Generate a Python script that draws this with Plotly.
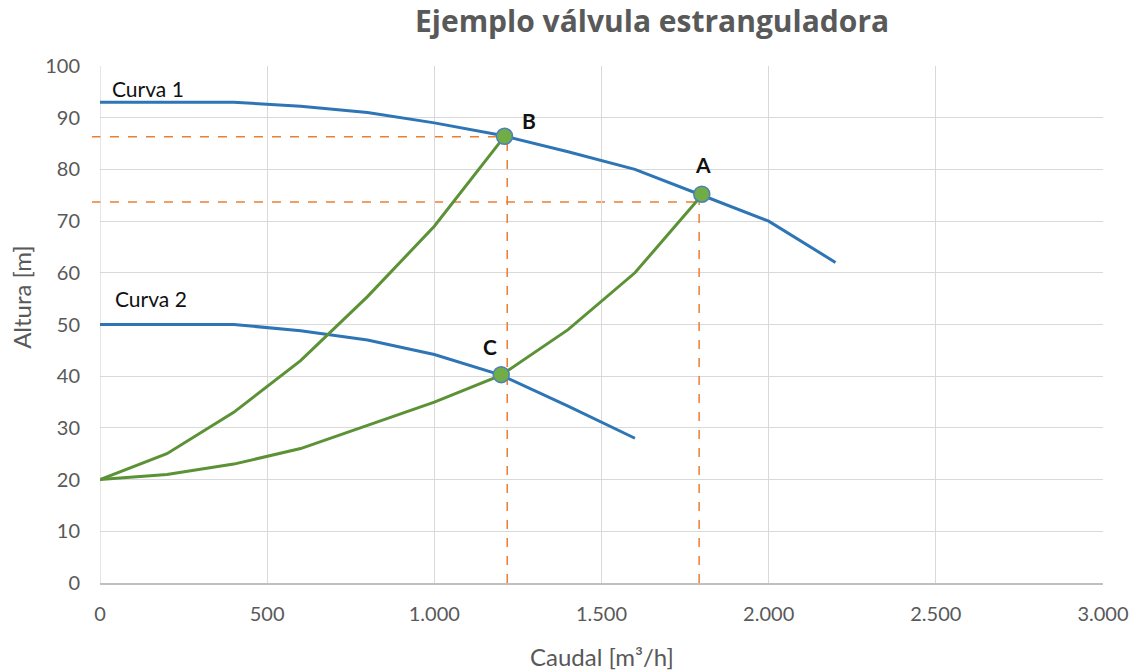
import plotly.graph_objects as go

# Curva 1 (pump curve, full speed)
c1_q = [0, 200, 400, 600, 800, 1000, 1200, 1400, 1600, 1800, 2000, 2200]
c1_h = [93, 93, 93, 92.2, 91, 89, 86.6, 83.4, 80, 75, 70, 62]

# Curva 2 (pump curve, reduced)
c2_q = [0, 200, 400, 600, 800, 1000, 1200, 1400, 1600]
c2_h = [50, 50, 50, 48.8, 47, 44.2, 40.2, 34.2, 28]

# System curve (valve throttled) through B
s1_q = [0, 200, 400, 600, 800, 1000, 1210]
s1_h = [20, 25, 33, 43, 55.4, 69, 86.4]

# System curve (open) through C and A
s2_q = [0, 200, 400, 600, 800, 1000, 1200, 1400, 1600, 1800]
s2_h = [20, 21, 23, 26, 30.5, 35, 40.2, 49, 60, 75]

# Operating points
pt_names = ["B", "A", "C"]
pt_q = [1210, 1800, 1200]
pt_h = [86.4, 75.2, 40.3]

# Reference (dashed) lines: vertical positions and horizontal levels
vline_q = [1218, 1792]
vline_top = [86.0, 73.6]
hline_h = [86.3, 73.7]
hline_end = [1210, 1792]

X_MAX = 3000
Y_MAX = 100
x_ticks = [0, 500, 1000, 1500, 2000, 2500, 3000]
y_ticks = [0, 10, 20, 30, 40, 50, 60, 70, 80, 90, 100]

BLUE = "#2E75B6"
GREEN = "#5B9236"
ORANGE = "#ED7D31"
GRAY = "#595959"
FONT = "Lato"

fig = go.Figure()

# dashed guide lines
for q, top in zip(vline_q, vline_top):
    fig.add_trace(go.Scatter(x=[q, q], y=[0, top], mode="lines",
                             line=dict(color=ORANGE, width=1.5, dash="dash"),
                             showlegend=False, hoverinfo="skip"))
for h, qe in zip(hline_h, hline_end):
    fig.add_shape(type="line", xref="paper", yref="y",
                  x0=-0.008, x1=qe / X_MAX, y0=h, y1=h,
                  line=dict(color=ORANGE, width=1.5, dash="dash"), layer="below")

fig.add_trace(go.Scatter(x=c1_q, y=c1_h, mode="lines", name="Curva 1",
                         line=dict(color=BLUE, width=3)))
fig.add_trace(go.Scatter(x=c2_q, y=c2_h, mode="lines", name="Curva 2",
                         line=dict(color=BLUE, width=3)))
fig.add_trace(go.Scatter(x=s1_q, y=s1_h, mode="lines", name="Sistema 1",
                         line=dict(color=GREEN, width=3)))
fig.add_trace(go.Scatter(x=s2_q, y=s2_h, mode="lines", name="Sistema 2",
                         line=dict(color=GREEN, width=3)))
fig.add_trace(go.Scatter(x=pt_q, y=pt_h, mode="markers", name="Puntos",
                         marker=dict(size=16, color="#70AD47",
                                     line=dict(color="#4E80B8", width=1.5)),
                         cliponaxis=False))

# text labels
fig.add_annotation(x=30, y=95.7, text="Curva 1", showarrow=False, xanchor="left",
                   font=dict(family=FONT, size=21, color="#111111"))
fig.add_annotation(x=39, y=55.1, text="Curva 2", showarrow=False, xanchor="left",
                   font=dict(family=FONT, size=21, color="#111111"))
label_pos = {"B": (1283, 89.4), "A": (1804, 80.9), "C": (1167, 45.8)}
for n in pt_names:
    lx, ly = label_pos[n]
    fig.add_annotation(x=lx, y=ly, text="<b>%s</b>" % n, showarrow=False,
                       font=dict(family=FONT, size=21, color="#111111"))

# axis titles
fig.add_annotation(xref="paper", yref="paper", x=0.5, y=-0.142, yanchor="middle",
                   text="Caudal [m³/h]", showarrow=False,
                   font=dict(family=FONT, size=24, color=GRAY))
fig.add_annotation(xref="paper", yref="paper", x=-0.079, y=0.553, xanchor="center",
                   yanchor="middle", textangle=-90,
                   text="Altura [m]", showarrow=False,
                   font=dict(family=FONT, size=24, color=GRAY))

fig.update_layout(
    width=1135, height=671,
    margin=dict(l=100, r=32, t=66, b=88),
    paper_bgcolor="white", plot_bgcolor="white",
    showlegend=False,
    separators=",.",
    title=dict(text="<b>Ejemplo válvula estranguladora</b>", x=0.5745, xanchor="center",
               xref="container", yref="container",
               y=0.968, yanchor="middle",
               font=dict(family="Open Sans", size=30, color=GRAY)),
    font=dict(family=FONT, color=GRAY),
)
fig.update_xaxes(range=[0, X_MAX], tickvals=x_ticks, tickformat=",d",
                 showgrid=True, gridcolor="#D9D9D9", gridwidth=1.3,
                 showline=True, linecolor="#BFBFBF", linewidth=1.5,
                 zeroline=False, ticks="outside", ticklen=12,
                 tickcolor="rgba(0,0,0,0)", automargin=False,
                 tickfont=dict(family=FONT, size=20, color=GRAY))
fig.update_yaxes(range=[0, Y_MAX], tickvals=y_ticks,
                 showgrid=True, gridcolor="#D9D9D9", gridwidth=1.3,
                 showline=False, zeroline=False, ticks="outside", ticklen=15,
                 tickcolor="rgba(0,0,0,0)", automargin=False,
                 tickfont=dict(family=FONT, size=20, color=GRAY))
# left boundary gridline at x=0
fig.add_shape(type="line", xref="x", yref="paper", x0=0, x1=0, y0=0, y1=1,
              line=dict(color="#D9D9D9", width=1.3), layer="below")

fig.write_html("out.html", config={"displayModeBar": False},
               post_script="document.body.style.margin='0px';document.body.style.padding='0px';")
